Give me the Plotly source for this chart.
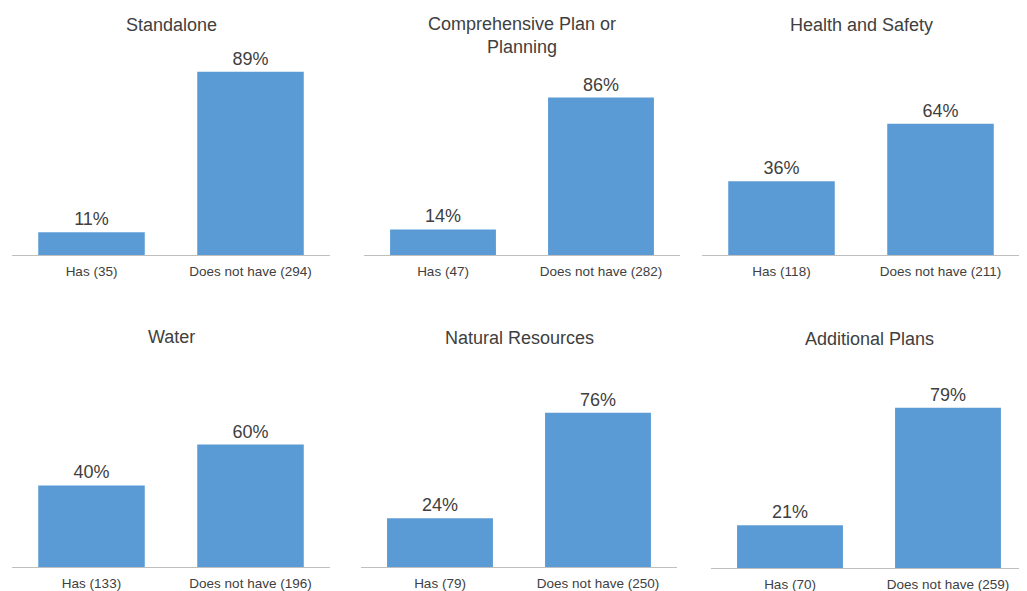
import plotly.graph_objects as go

# ---- data ----
panel_titles = ["Standalone", "Comprehensive Plan or<br>Planning", "Health and Safety",
                "Water", "Natural Resources", "Additional Plans"]
has_counts = [35, 47, 118, 133, 79, 70]
not_counts = [294, 282, 211, 196, 250, 259]
has_pct = [11, 14, 36, 40, 24, 21]
not_pct = [89, 86, 64, 60, 76, 79]

# ---- layout: the page body has an 8px margin, so the figure starts at (8, 8) ----
OFF = 8
W, H = 1027 - OFF, 591 - OFF
# screen-pixel geometry of each panel: x0, x1, ytop, ybottom, title y
panels = [
    (12, 330, 49, 255, 25),
    (364, 680, 72, 255, 35),
    (702, 1020, 50, 255, 25),
    (12, 330, 363, 567, 337),
    (361, 677, 364, 567, 338),
    (711, 1027, 365, 568, 339),
]

BAR = "#5B9BD5"
TXT = "#404040"
FONT = "Liberation Sans, Arial, sans-serif"


def px(x):
    return (x - OFF) / W


def py(y):
    return 1 - (y - OFF) / H


fig = go.Figure()
for i, (x0, x1, yt, yb, ty) in enumerate(panels):
    n = "" if i == 0 else str(i + 1)
    cats = [f"Has ({has_counts[i]})", f"Does not have ({not_counts[i]})"]
    vals = [has_pct[i] / 100, not_pct[i] / 100]
    fig.add_trace(go.Bar(
        x=cats, y=vals, xaxis="x" + n, yaxis="y" + n,
        marker=dict(color=BAR, line=dict(width=0)),
        width=0.67,
        text=[f"{v}%" for v in (has_pct[i], not_pct[i])],
        textposition="outside", cliponaxis=False,
        textfont=dict(size=18, color=TXT, family=FONT),
        showlegend=False, hoverinfo="skip",
    ))
    fig.layout["xaxis" + n] = dict(
        domain=[max(px(x0), 0), min(px(x1), 1)], anchor="y" + n, type="category",
        range=[-0.5, 1.5], showline=True, linecolor="#BFBFBF", linewidth=1.3,
        showgrid=False, zeroline=False, ticks="", ticklabelstandoff=4,
        tickfont=dict(size=13.5, color=TXT, family=FONT), fixedrange=True,
    )
    fig.layout["yaxis" + n] = dict(
        domain=[py(yb), py(yt)], anchor="x" + n, range=[0, 1],
        visible=False, showgrid=False, zeroline=False, fixedrange=True,
    )
    fig.add_annotation(
        text=panel_titles[i], xref="paper", yref="paper",
        x=(px(x0) + px(x1)) / 2, y=py(ty), xanchor="center", yanchor="middle",
        showarrow=False, font=dict(size=18, color=TXT, family=FONT),
    )

fig.update_layout(
    width=W, height=H, margin=dict(l=0, r=0, t=0, b=0),
    paper_bgcolor="white", plot_bgcolor="white", bargap=0.33,
)
fig.write_html("out.html")
